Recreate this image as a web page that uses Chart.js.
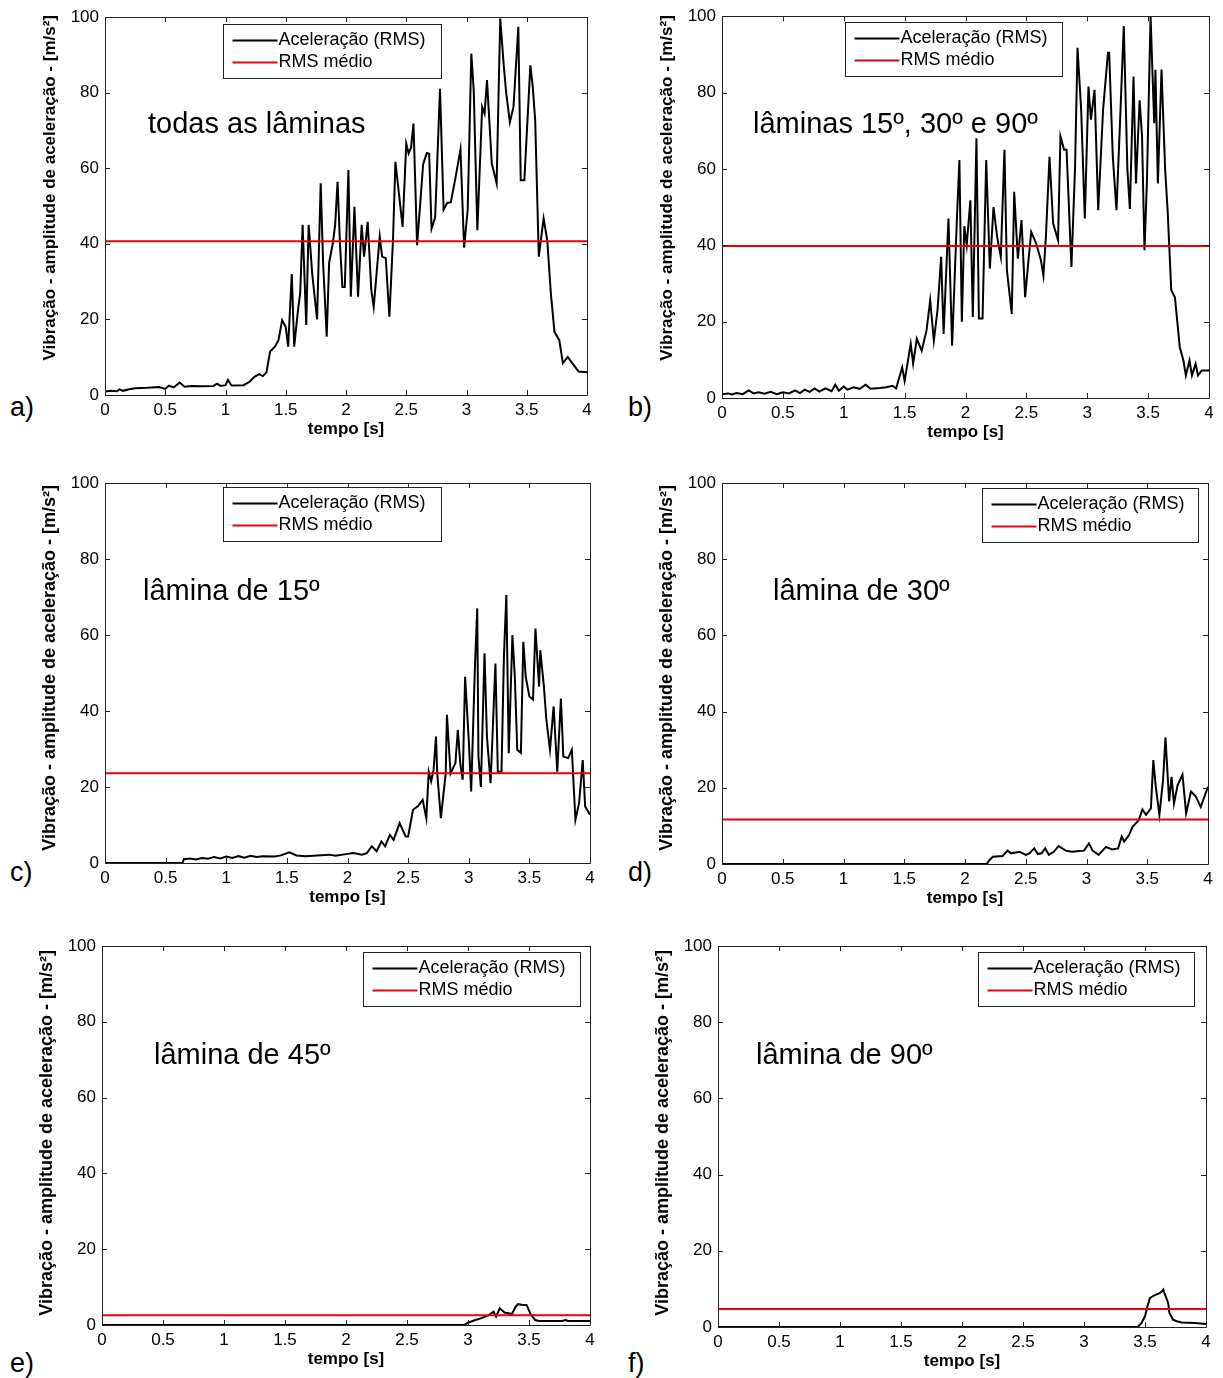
<!DOCTYPE html>
<html>
<head>
<meta charset="utf-8">
<script src="https://cdn.jsdelivr.net/npm/chart.js@4/dist/chart.umd.min.js"></script>
<style>
  html, body { margin:0; padding:0; background:#fff; }
  body { width:1223px; height:1378px; position:relative; overflow:hidden; font-family:'Liberation Sans', Arial, sans-serif; }
  canvas { position:absolute; }
  .lbl { position:absolute; font-size:27px; line-height:1; color:#000; }
</style>
</head>
<body>
<div class="lbl" style="left:10px;top:394px">a)</div>
<div class="lbl" style="left:628px;top:394px">b)</div>
<div class="lbl" style="left:10px;top:859px">c)</div>
<div class="lbl" style="left:628px;top:859px">d)</div>
<div class="lbl" style="left:10px;top:1350px">e)</div>
<div class="lbl" style="left:628px;top:1350px">f)</div>
<canvas id="ca"></canvas>
<canvas id="cb"></canvas>
<canvas id="cc"></canvas>
<canvas id="cd"></canvas>
<canvas id="ce"></canvas>
<canvas id="cf"></canvas>
<script>
// ---------- data ----------
const xTicks = [0, 0.5, 1, 1.5, 2, 2.5, 3, 3.5, 4];
const yTicks = [0, 20, 40, 60, 80, 100];
const xTitle = 'tempo [s]';
const yTitle = 'Vibração - amplitude de aceleração - [m/s²]';
const seriesLabels = ['Aceleração (RMS)', 'RMS médio'];

// a) todas as lâminas
const tA = [0,0.05,0.1,0.12,0.15,0.2,0.25,0.35,0.45,0.5,0.53,0.57,0.62,0.66,0.72,0.8,0.9,0.93,0.96,1.0,1.02,1.05,1.15,1.2,1.24,1.28,1.31,1.34,1.37,1.41,1.44,1.47,1.5,1.52,1.55,1.57,1.6,1.62,1.64,1.67,1.69,1.72,1.76,1.79,1.81,1.84,1.86,1.89,1.91,1.93,1.95,1.97,1.99,2.02,2.04,2.07,2.1,2.13,2.15,2.18,2.21,2.23,2.28,2.3,2.33,2.36,2.39,2.41,2.47,2.5,2.52,2.54,2.56,2.59,2.64,2.67,2.69,2.71,2.74,2.78,2.81,2.84,2.87,2.91,2.95,2.98,3.01,3.04,3.06,3.09,3.13,3.15,3.17,3.21,3.25,3.28,3.31,3.33,3.36,3.39,3.43,3.45,3.48,3.53,3.55,3.57,3.6,3.64,3.67,3.7,3.73,3.77,3.8,3.84,3.89,3.93,4.0];
const vA = [0.9,1.1,1.0,1.5,1.1,1.5,1.8,1.9,2.1,1.6,2.5,2.0,3.3,2.2,2.4,2.3,2.4,3.0,2.4,2.6,4.0,2.5,2.6,3.5,4.8,5.5,5.0,6.0,11.5,12.8,14.5,19.8,18.0,12.8,32,12.8,22,27,45,18.5,45,32,20,56,35,15.4,35,40,45,56.4,40,28.6,28.6,59.5,26,49.8,26,45,36.6,45.8,27.8,23.3,41.9,36.6,36.2,20.7,41,61.7,44.5,66.5,63.9,65.5,71.8,39.6,61,64,63.8,44,47,81,49,50.8,51,57.7,65,39,49,90.3,80.6,43.6,76.2,74.4,83.3,61.2,56,99.6,86.8,79.7,72.2,76.2,97.4,56.8,56.8,87.2,81.5,72.7,36.6,46.7,41,26.9,16.7,14.5,8.4,10.1,7.9,6.2,6.0];
const meanA = 40.7;

// b) lâminas 15º, 30º e 90º
const tB = [0,0.05,0.08,0.12,0.17,0.22,0.26,0.3,0.35,0.4,0.45,0.5,0.55,0.6,0.64,0.68,0.72,0.76,0.8,0.85,0.9,0.93,0.96,1.0,1.03,1.08,1.13,1.18,1.22,1.3,1.35,1.4,1.43,1.48,1.5,1.55,1.57,1.6,1.64,1.68,1.71,1.74,1.77,1.8,1.82,1.86,1.89,1.93,1.95,1.97,1.99,2.01,2.04,2.06,2.09,2.11,2.14,2.17,2.2,2.23,2.26,2.29,2.32,2.34,2.38,2.4,2.43,2.46,2.49,2.52,2.54,2.58,2.62,2.64,2.66,2.69,2.72,2.76,2.78,2.81,2.83,2.87,2.9,2.92,2.95,2.98,3.01,3.03,3.06,3.09,3.13,3.17,3.18,3.21,3.24,3.27,3.3,3.33,3.35,3.38,3.4,3.43,3.45,3.47,3.49,3.52,3.55,3.56,3.58,3.61,3.64,3.66,3.69,3.72,3.76,3.79,3.81,3.84,3.86,3.89,3.91,3.94,4.0];
const vB = [1.0,1.2,0.9,1.3,1.0,2.0,1.2,1.5,1.1,1.6,1.0,1.5,1.2,2.0,1.3,2.2,1.6,2.5,1.7,2.5,1.8,3.5,1.9,3.0,2.2,2.8,2.4,3.5,2.4,2.6,2.8,3.2,2.5,8,4.5,14.2,9,15.5,12.4,17.7,25.6,15,23,37,16.8,47,13.7,47.5,62.3,20,45,40,51.8,21.2,68,20.8,20.8,62.3,33.9,50,42.2,37,65,33.5,22,54,36.5,46.6,26.4,37,43.5,40.5,36,32,42,63.2,45.7,41.3,68.5,65,65,34.3,60.6,91.7,75.5,47,81.6,72.9,80.7,49.2,75.5,90.4,90.4,63.2,49.2,72.9,97.4,59.7,49.5,84.2,56.2,78,68.5,38.7,56.5,100,72,86,56.2,86,59.7,49.2,28.2,26.4,13.3,9.8,5.9,9.8,5.9,8.9,5.9,7.2,7.2];
const meanB = 39.8;

// c) lâmina de 15º
const tC = [0,0.64,0.65,0.7,0.75,0.8,0.85,0.9,0.95,1.0,1.05,1.1,1.15,1.2,1.25,1.3,1.4,1.45,1.52,1.58,1.65,1.75,1.85,1.9,2.0,2.05,2.12,2.16,2.2,2.24,2.28,2.31,2.35,2.38,2.43,2.48,2.5,2.54,2.58,2.62,2.65,2.67,2.69,2.71,2.73,2.74,2.77,2.81,2.82,2.85,2.89,2.91,2.93,2.95,2.97,3.0,3.02,3.05,3.07,3.08,3.1,3.13,3.15,3.18,3.22,3.24,3.27,3.29,3.31,3.33,3.36,3.38,3.4,3.43,3.45,3.47,3.5,3.53,3.55,3.58,3.59,3.62,3.64,3.67,3.7,3.73,3.76,3.78,3.82,3.85,3.88,3.91,3.94,3.96,4.0];
const vC = [0,0,1.0,1.2,0.9,1.3,1.1,1.6,1.2,1.7,1.3,1.8,1.4,1.9,1.6,1.8,1.7,2.0,2.8,2.0,1.8,2.0,2.2,1.9,2.4,2.6,2.2,2.6,4.4,3.1,5.7,4.4,7.4,6.1,10.5,7.0,7.0,14,14.9,16.6,11.8,24,21.5,24.5,33.3,23.6,11.8,23.6,39,23.6,26.3,35,26.3,21.9,49,32.4,18.8,50.8,67,28,20,55.2,33.3,21,52.5,24,24,54.3,70.5,28.9,60,49,29.8,29,58.2,49,43.8,43,61.7,46.4,56,46.4,37.7,29.8,41.2,24,43.3,28,27.6,29.8,11.4,15.8,27.1,14.9,12.7];
const meanC = 23.6;

// d) lâmina de 30º
const tD = [0,2.18,2.2,2.23,2.31,2.35,2.38,2.45,2.5,2.53,2.57,2.6,2.63,2.66,2.69,2.73,2.77,2.83,2.88,2.94,2.98,3.02,3.05,3.1,3.16,3.21,3.26,3.29,3.31,3.35,3.38,3.43,3.46,3.49,3.53,3.55,3.57,3.6,3.63,3.65,3.68,3.7,3.72,3.75,3.79,3.82,3.86,3.9,3.94,3.98,4.0];
const vD = [0,0,1.0,1.9,2.1,3.5,2.8,3.2,2.4,2.8,4.1,2.6,2.8,4.1,2.4,3.2,4.7,3.5,3.2,3.4,3.5,5.4,3.5,2.4,4.5,3.8,4.1,7.2,5.9,7.6,9.8,11.5,14.3,12.9,14.6,27.3,20.3,12.9,22,33.2,16.4,22.9,15.9,20.7,23.4,13.3,19,17.7,15,18.5,20.3];
const meanD = 11.7;

// e) lâmina de 45º
const tE = [0,2.97,3.0,3.06,3.11,3.17,3.21,3.23,3.26,3.3,3.33,3.36,3.39,3.41,3.45,3.48,3.51,3.55,3.58,3.77,3.8,3.82,4.0];
const vE = [0,0,0.6,1.3,1.8,2.6,3.5,2.2,4.4,3.3,3.1,2.9,4.8,5.5,5.3,5.3,3.1,1.3,1.05,1.05,1.3,1.05,1.05];
const meanE = 2.6;

// f) lâmina de 90º
const tF = [0,3.44,3.47,3.5,3.52,3.54,3.57,3.59,3.62,3.64,3.65,3.66,3.69,3.7,3.73,3.76,3.8,3.91,4.0];
const vF = [0,0,1,2.8,5.4,7.6,8.2,8.5,8.9,9.4,9.8,8.8,6.3,3.7,1.9,1.5,1.2,1.05,0.8];
const meanF = 4.7;

// ---------- layout ----------
const FONT = "'Liberation Sans', Arial, sans-serif";
const panels = [
  {id:'ca', t:tA, v:vA, mean:meanA, note:'todas as lâminas',       cv:{x:0,  y:0,   w:600, h:450}, area:{l:105,t:17, r:587, b:395},  leg:{dx:118,dy:7,w:218,h:54}, nd:{dx:43,dy:116}, yt:{top:-2, size:17}},
  {id:'cb', t:tB, v:vB, mean:meanB, note:'lâminas 15º, 30º e 90º', cv:{x:612,y:0,   w:611, h:450}, area:{l:722,t:16, r:1209,b:398},  leg:{dx:123,dy:6,w:217,h:54}, nd:{dx:31,dy:117}, yt:{top:-1, size:17}},
  {id:'cc', t:tC, v:vC, mean:meanC, note:'lâmina de 15º',          cv:{x:0,  y:465, w:600, h:445}, area:{l:105,t:483,r:590, b:863},  leg:{dx:118,dy:4,w:218,h:54}, nd:{dx:38,dy:117}, yt:{top:2, size:18}},
  {id:'cd', t:tD, v:vD, mean:meanD, note:'lâmina de 30º',          cv:{x:612,y:465, w:611, h:445}, area:{l:722,t:483,r:1208,b:864},  leg:{dx:260,dy:5,w:216,h:54}, nd:{dx:51,dy:117}, yt:{top:2, size:18}},
  {id:'ce', t:tE, v:vE, mean:meanE, note:'lâmina de 45º',          cv:{x:0,  y:928, w:600, h:450}, area:{l:102,t:946,r:590, b:1325}, leg:{dx:261,dy:6,w:217,h:54}, nd:{dx:52,dy:118}, yt:{top:4, size:18}},
  {id:'cf', t:tF, v:vF, mean:meanF, note:'lâmina de 90º',          cv:{x:612,y:928, w:611, h:450}, area:{l:718,t:946,r:1206,b:1327}, leg:{dx:260,dy:6,w:216,h:54}, nd:{dx:38,dy:118}, yt:{top:4, size:18}}
];

const framePlugin = {
  id: 'frame',
  afterDraw(chart, args, o) {
    const {ctx, chartArea: a, scales: {x, y}} = chart;
    ctx.save();
    ctx.strokeStyle = '#222';
    ctx.lineWidth = 1;
    ctx.beginPath();
    ctx.rect(Math.round(a.left) + 0.5, Math.round(a.top) + 0.5, Math.round(a.right - a.left), Math.round(a.bottom - a.top));
    x.ticks.forEach((t, i) => {
      const px = Math.round(x.getPixelForTick(i)) + 0.5;
      ctx.moveTo(px, a.bottom); ctx.lineTo(px, a.bottom - 5);
      ctx.moveTo(px, a.top); ctx.lineTo(px, a.top + 5);
    });
    y.ticks.forEach((t, i) => {
      const py = Math.round(y.getPixelForTick(i)) + 0.5;
      ctx.moveTo(a.left, py); ctx.lineTo(a.left + 5, py);
      ctx.moveTo(a.right, py); ctx.lineTo(a.right - 5, py);
    });
    ctx.stroke();

    // y axis title (top end aligned near the top of the plot box)
    ctx.save();
    ctx.translate(a.left - 55, a.top + o.yt.top);
    ctx.rotate(-Math.PI / 2);
    ctx.font = 'bold ' + o.yt.size + 'px ' + FONT;
    ctx.fillStyle = '#000';
    ctx.textAlign = 'right';
    ctx.textBaseline = 'middle';
    ctx.fillText(o.ytext, 0, 0);
    ctx.restore();

    // legend box
    const L = o.leg;
    const bx = Math.round(a.left + L.dx) + 0.5, by = Math.round(a.top + L.dy) + 0.5;
    ctx.fillStyle = '#fff';
    ctx.fillRect(bx, by, L.w, L.h);
    ctx.strokeStyle = '#222';
    ctx.strokeRect(bx, by, L.w, L.h);
    ctx.font = '18px ' + FONT;
    ctx.textBaseline = 'middle';
    ctx.textAlign = 'left';
    chart.data.datasets.forEach((ds, i) => {
      const yy = by + 16 + i * 22;
      ctx.strokeStyle = ds.borderColor;
      ctx.lineWidth = 2;
      ctx.beginPath();
      ctx.moveTo(bx + 9, yy); ctx.lineTo(bx + 54, yy);
      ctx.stroke();
      ctx.fillStyle = '#000';
      ctx.fillText(ds.label, bx + 55, yy);
    });

    // annotation
    ctx.font = '29px ' + FONT;
    ctx.textBaseline = 'alphabetic';
    ctx.fillStyle = '#000';
    ctx.fillText(o.note, a.left + o.nd.dx, a.top + o.nd.dy);
    ctx.restore();
  }
};

panels.forEach(p => {
  const c = document.getElementById(p.id);
  c.width = p.cv.w; c.height = p.cv.h;
  c.style.left = p.cv.x + 'px'; c.style.top = p.cv.y + 'px';
  c.style.width = p.cv.w + 'px'; c.style.height = p.cv.h + 'px';
  const yWidth = p.area.l - p.cv.x;
  const xHeight = 45;
  const pad = {
    left: 0,
    top: p.area.t - p.cv.y,
    right: p.cv.x + p.cv.w - p.area.r,
    bottom: p.cv.y + p.cv.h - p.area.b - xHeight
  };
  new Chart(c, {
    type: 'line',
    data: {
      datasets: [
        { label: seriesLabels[0], data: p.t.map((t, i) => ({x: t, y: p.v[i]})), borderColor: '#000', borderWidth: 2, pointRadius: 0, tension: 0, order: 2 },
        { label: seriesLabels[1], data: [{x: xTicks[0], y: p.mean}, {x: xTicks[xTicks.length - 1], y: p.mean}], borderColor: '#e8000b', borderWidth: 2, pointRadius: 0, order: 1 }
      ]
    },
    options: {
      responsive: false,
      devicePixelRatio: 1,
      animation: false,
      events: [],
      layout: { padding: pad },
      plugins: {
        legend: { display: false },
        tooltip: { enabled: false },
        frame: { leg: p.leg, note: p.note, nd: p.nd, yt: p.yt, ytext: yTitle }
      },
      scales: {
        x: {
          type: 'linear', min: xTicks[0], max: xTicks[xTicks.length - 1],
          afterBuildTicks: s => { s.ticks = xTicks.map(v => ({value: v})); },
          afterFit: s => { s.height = xHeight; },
          grid: { drawOnChartArea: false, drawTicks: false },
          border: { display: false },
          ticks: { padding: 5, color: '#000', font: { family: FONT, size: 17 }, maxRotation: 0, autoSkip: false, callback: v => String(v) },
          title: { display: true, text: xTitle, color: '#000', font: { family: FONT, size: 17, weight: 'bold', lineHeight: 1.2 }, padding: { top: 0, bottom: 0 } }
        },
        y: {
          type: 'linear', min: yTicks[0], max: yTicks[yTicks.length - 1],
          afterBuildTicks: s => { s.ticks = yTicks.map(v => ({value: v})); },
          afterFit: s => { s.width = yWidth; },
          grid: { drawOnChartArea: false, drawTicks: false },
          border: { display: false },
          ticks: { padding: 6, color: '#000', font: { family: FONT, size: 17 }, autoSkip: false, callback: v => String(v) },
          title: { display: false, text: yTitle }
        }
      }
    },
    plugins: [framePlugin]
  });
});
</script>
</body>
</html>
